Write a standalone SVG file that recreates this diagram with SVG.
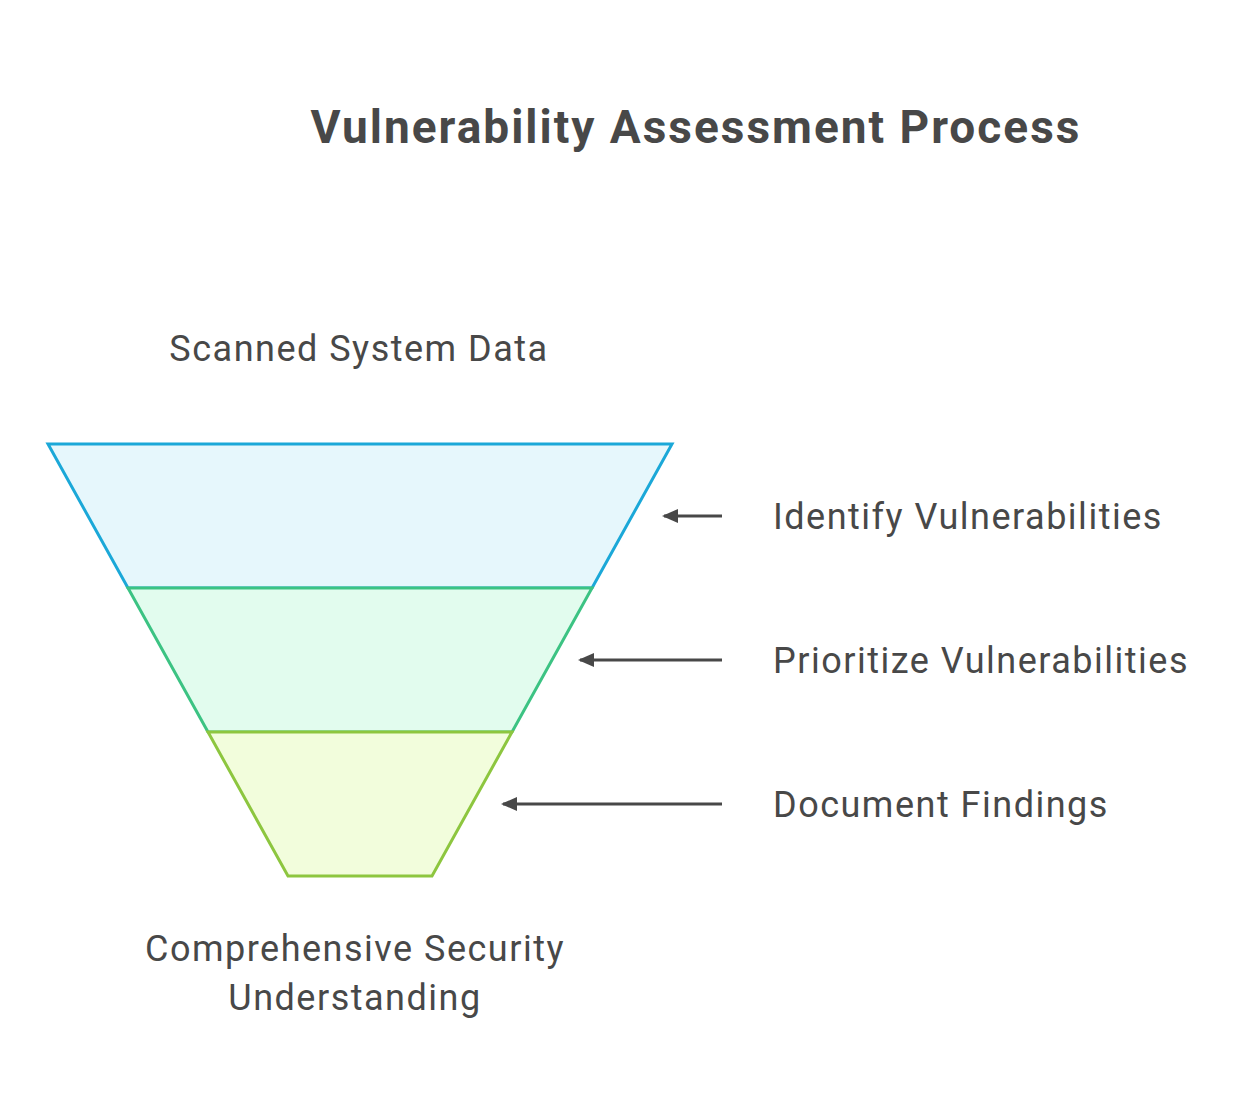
<svg xmlns="http://www.w3.org/2000/svg" width="1244" height="1117" viewBox="0 0 1244 1117">
<style>
text{font-family:Roboto,"Liberation Sans",sans-serif;fill:#484848}
.l{font-size:36px;letter-spacing:1.5px}
.c{stroke:#484848;stroke-width:3;fill:none}
</style>
<defs><marker id="a" markerWidth="16" markerHeight="16" refX="14" refY="7" orient="auto" markerUnits="userSpaceOnUse" viewBox="0 0 16 14"><path d="M0,0 L16,7 L0,14 Z" fill="#484848"/></marker></defs>
<rect width="1244" height="1117" fill="#fff"/>
<text x="696" y="143" font-size="46" font-weight="bold" text-anchor="middle" letter-spacing="2">Vulnerability Assessment Process</text>
<text class="l" x="359" y="361" text-anchor="middle">Scanned System Data</text>
<g id="band1"><polygon points="48,444 672,444 592,588 128,588" fill="#E6F7FC" stroke="#1BA8D8" stroke-width="3"/></g>
<g id="band2"><polygon points="128,588 592,588 512,732 208,732" fill="#E2FCEE" stroke="#3CC383" stroke-width="3"/></g>
<g id="band3"><polygon points="208,732 512,732 432,876 288,876" fill="#F2FDDC" stroke="#8DC63F" stroke-width="3"/></g>
<g id="connectors">
<line class="c" x1="722" y1="516" x2="664" y2="516" marker-end="url(#a)"/>
<line class="c" x1="722" y1="660" x2="580" y2="660" marker-end="url(#a)"/>
<line class="c" x1="722" y1="804" x2="503" y2="804" marker-end="url(#a)"/>
</g>
<g id="labels">
<text class="l" x="773" y="529">Identify Vulnerabilities</text>
<text class="l" x="773" y="673">Prioritize Vulnerabilities</text>
<text class="l" x="773" y="817">Document Findings</text>
<text class="l" x="355" y="961" text-anchor="middle">Comprehensive Security</text>
<text class="l" x="355" y="1010" text-anchor="middle">Understanding</text>
</g>
</svg>
